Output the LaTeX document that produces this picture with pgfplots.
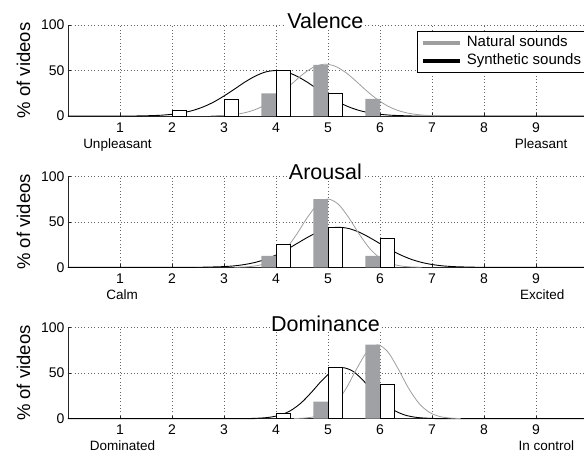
\documentclass[border=0pt]{standalone}
\usepackage{pgfplots}
\pgfplotsset{compat=1.18}
\usepackage{fontspec}
\setmainfont{Liberation Sans}

\definecolor{natbar}{RGB}{160,161,164}
\definecolor{natline}{RGB}{158,158,158}

\tikzset{endlabel/.style={font=\fontsize{13.5}{13.5}\selectfont, anchor=base, yshift=-32pt}}

\pgfplotsset{
  panel/.style={
    width=520pt, height=91pt, scale only axis,
    xmin=0, xmax=10, ymin=0, ymax=100,
    xtick={1,...,9}, ytick={0,50,100},
    axis x line=bottom, axis y line=left,
    axis line style={-, line width=0.8pt, black!85},
    tick align=inside, major tick length=3pt,
    tick style={black!85, line width=0.6pt},
    grid=major,
    major grid style={black!60, line width=0.5pt, dash pattern=on 0.7pt off 2.6pt},
    clip=false,
    /pgf/number format/assume math mode=true,
    ticklabel style={font=\fontsize{14}{14}\selectfont},
    xticklabel style={yshift=-3pt},
    ylabel={\% of videos},
    ylabel style={font=\fontsize{18.5}{18.5}\selectfont,
      at={(axis description cs:0,0.5)}, anchor=center, yshift=44.5pt},
    title style={at={(axis cs:4.95,100)}, anchor=base, yshift=-9.5pt,
      font=\fontsize{21.5}{21.5}\selectfont, fill=white, inner sep=1pt},
  },
  natcurve/.style={natline, line width=0.8pt, smooth, forget plot},
  syncurve/.style={black, line width=0.9pt, smooth, forget plot},
  natbars/.style={ybar, bar width=0.28, bar shift=-0.14, fill=natbar, draw=none, forget plot},
  synbars/.style={ybar, bar width=0.28, bar shift=0.14, fill=white, draw=black, line width=0.8pt, forget plot},
}

\begin{document}
\begin{tikzpicture}

% ---------------- Valence ----------------
\begin{axis}[panel, at={(68pt,-116pt)}, anchor=south west, title={Valence},
  legend image code/.code={\draw[#1, line width=4pt] (0pt,0pt) -- (37pt,0pt);},
  legend style={at={(rel axis cs:0.671,0.934)}, anchor=north west,
    draw=black, line width=0.9pt, inner xsep=4pt, inner ysep=2pt,
    font=\fontsize{15}{15}\selectfont, row sep=0pt,
    nodes={inner sep=2.5pt, text height=10.5pt, text depth=3pt},
    cells={anchor=west}},
]
\addplot[syncurve] coordinates {
  (0,0) (1.2,0) (1.4,0.2) (1.6,0.4) (1.8,0.9) (2.0,1.9) (2.2,3.5) (2.4,6.1)
  (2.6,10.0) (2.8,15.3) (3.0,22.0) (3.2,29.5) (3.4,37.2) (3.6,43.8) (3.8,48.4)
  (4.0,50) (4.2,48.4) (4.4,43.8) (4.6,37.2) (4.8,29.5) (5.0,22.0) (5.2,15.3)
  (5.4,10.0) (5.6,6.1) (5.8,3.5) (6.0,1.9) (6.2,0.9) (6.4,0.4) (6.6,0.2) (6.8,0) (10,0)};
\addplot[natcurve] coordinates {
  (2.75,0.2) (2.95,0.6) (3.15,1.4) (3.35,3.0) (3.55,6.0) (3.75,10.9) (3.95,18.1)
  (4.15,27.3) (4.35,37.7) (4.55,47.4) (4.75,54.4) (4.95,57) (5.15,54.4) (5.35,47.4)
  (5.55,37.7) (5.75,27.3) (5.95,18.1) (6.15,10.9) (6.35,6.0) (6.55,3.0) (6.75,1.4)
  (6.95,0.6) (7.15,0.2)};
\addplot[natbars] coordinates {(4,25) (5,56.25) (6,18.75)};
\addplot[synbars] coordinates {(2,6.25) (3,18.75) (4,50) (5,25)};
\addlegendimage{natline}
\addlegendentry{\makebox[125pt][l]{\hspace{2pt}Natural sounds}}
\addlegendimage{black}
\addlegendentry{\makebox[125pt][l]{\hspace{2pt}Synthetic sounds}}
\node[endlabel] at (axis cs:0.95,0) {Unpleasant};
\node[endlabel] at (axis cs:9.1,0) {Pleasant};
\end{axis}

% ---------------- Arousal ----------------
\begin{axis}[panel, at={(68pt,-267.3pt)}, anchor=south west, title={Arousal}]
\addplot[syncurve] coordinates {
  (0,0) (2.4,0) (2.6,0.2) (2.8,0.4) (3.0,0.8) (3.2,1.6) (3.4,3.1) (3.6,5.4) (3.8,8.8)
  (4.0,13.5) (4.2,19.3) (4.4,26.0) (4.6,32.7) (4.8,38.6) (5.0,42.6) (5.2,44)
  (5.4,42.6) (5.6,38.6) (5.8,32.7) (6.0,26.0) (6.2,19.3) (6.4,13.5) (6.6,8.8)
  (6.8,5.4) (7.0,3.1) (7.2,1.6) (7.4,0.8) (7.6,0.4) (7.8,0.2) (8.0,0) (10,0)};
\addplot[natcurve] coordinates {
  (3.2,0.1) (3.4,0.4) (3.6,1.5) (3.8,4.2) (4.0,10.2) (4.2,20.8) (4.4,36.5)
  (4.6,54.5) (4.8,69.2) (5.0,75) (5.2,69.2) (5.4,54.5) (5.6,36.5) (5.8,20.8)
  (6.0,10.2) (6.2,4.2) (6.4,1.5) (6.6,0.4) (6.8,0.1)};
\addplot[natbars] coordinates {(4,12.5) (5,75) (6,12.5)};
\addplot[synbars] coordinates {(4,25) (5,43.75) (6,31.25)};
\node[endlabel] at (axis cs:1.04,0) {Calm};
\node[endlabel] at (axis cs:9.12,0) {Excited};
\end{axis}

% ---------------- Dominance ----------------
\begin{axis}[panel, at={(68pt,-418.6pt)}, anchor=south west, title={Dominance}]
\addplot[syncurve] coordinates {
  (0,0) (3.28,0) (3.48,0.1) (3.68,0.5) (3.88,1.5) (4.08,3.9) (4.28,8.8) (4.48,17.1)
  (4.68,28.8) (4.88,41.7) (5.08,52.0) (5.28,56) (5.48,52.0) (5.68,41.7)
  (5.88,28.8) (6.08,17.1) (6.28,8.8) (6.48,3.9) (6.68,1.5) (6.88,0.5) (7.08,0.1)
  (7.28,0) (10,0)};
\addplot[natcurve] coordinates {
  (4.35,0.1) (4.55,0.6) (4.75,2.3) (4.95,6.9) (5.15,16.7) (5.35,33.3) (5.55,54.6)
  (5.75,73.4) (5.95,81) (6.15,73.4) (6.35,54.6) (6.55,33.3) (6.75,16.7)
  (6.95,6.9) (7.15,2.3) (7.35,0.6) (7.55,0.1)};
\addplot[natbars] coordinates {(5,18.75) (6,81.25)};
\addplot[synbars] coordinates {(4,6.25) (5,56.25) (6,37.5)};
\node[endlabel] at (axis cs:1.05,0) {Dominated};
\node[endlabel] at (axis cs:9.2,0) {In control};
\end{axis}

\pgfresetboundingbox
\useasboundingbox (0,0) rectangle (584pt,-458pt);
\end{tikzpicture}
\end{document}
